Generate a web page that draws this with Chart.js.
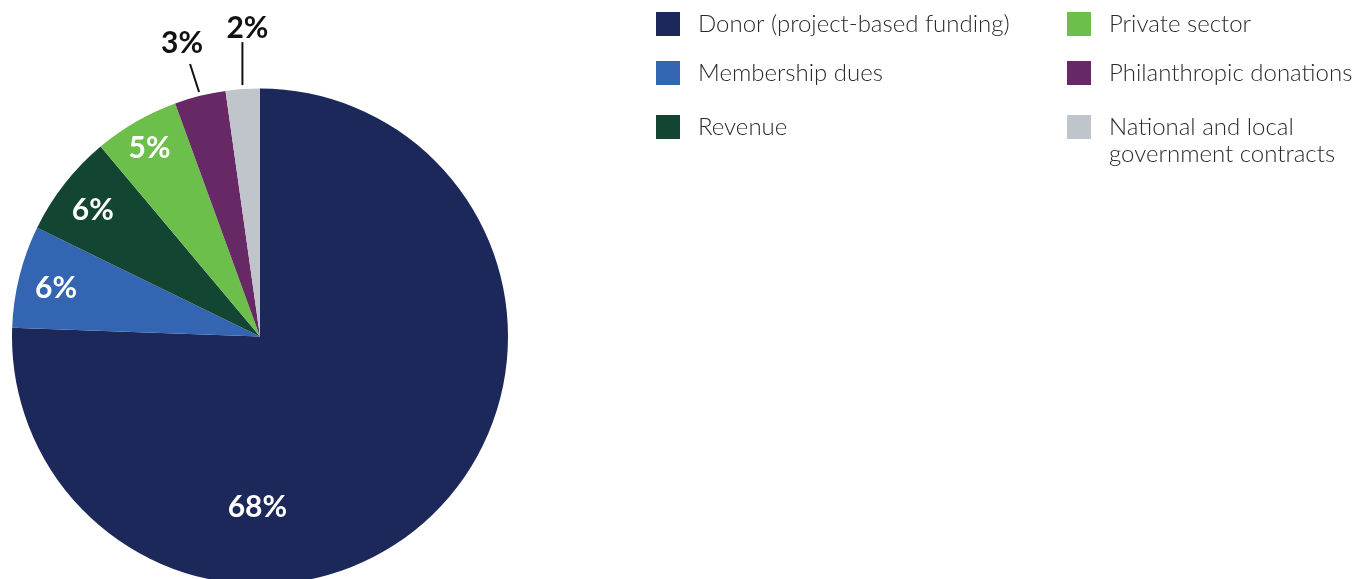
<!DOCTYPE html>
<html>
<head>
<meta charset="utf-8">
<script src="https://cdn.jsdelivr.net/npm/chart.js@4"></script>
<style>
  html, body { margin: 0; padding: 0; background: #ffffff; overflow: hidden; }
  #wrap { position: relative; width: 1369px; height: 579px; overflow: hidden; }
  canvas { display: block; }
</style>
</head>
<body>
<div id="wrap"><canvas id="pie" width="1369" height="620"></canvas></div>
<script>
// Funding sources and their shares (percent)
const categories = [
  'Donor (project-based funding)',
  'Membership dues',
  'Revenue',
  'Private sector',
  'Philanthropic donations',
  'National and local government contracts'
];
const shares = [68, 6, 6, 5, 3, 2];
const colors = ['#1d285a', '#3465b2', '#134632', '#6cbf4b', '#672866', '#c0c4cb'];

// Legend entries: two columns, wrapped label lines
const legendLines = [
  ['Donor (project-based funding)'],
  ['Membership dues'],
  ['Revenue'],
  ['Private sector'],
  ['Philanthropic donations'],
  ['National and local', 'government contracts']
];

const labelFont = 'bold 30px Lato, "Open Sans", sans-serif';

// Where each inside label sits: fraction along the slice's sweep, fraction of the radius
const insidePlacement = [
  [0.665, 0.69],
  [0.47, 0.845],
  [0.46, 0.845],
  [0.48, 0.88]
];

// Percent labels inside the larger slices, callouts above the two thin ones
const sliceLabels = {
  id: 'sliceLabels',
  afterDatasetsDraw(chart) {
    const ctx = chart.ctx;
    const arcs = chart.getDatasetMeta(0).data;
    ctx.save();
    ctx.font = labelFont;
    ctx.textAlign = 'center';
    ctx.textBaseline = 'middle';
    arcs.forEach((arc, i) => {
      const text = shares[i] + '%';
      const r = arc.outerRadius;
      if (i < insidePlacement.length) {
        const [fa, fr] = insidePlacement[i];
        const a = arc.startAngle + (arc.endAngle - arc.startAngle) * fa;
        ctx.fillStyle = '#ffffff';
        ctx.fillText(text, arc.x + Math.cos(a) * r * fr, arc.y + Math.sin(a) * r * fr);
      } else {
        // leader line from the rim outward
        const mid = (arc.startAngle + arc.endAngle) / 2;
        const x0 = arc.x + Math.cos(mid) * (r + 4);
        const y0 = arc.y + Math.sin(mid) * (r + 4);
        let x1, y1, tx, ty;
        if (i === 4) {
          x1 = x0 - 9; y1 = y0 - 28; tx = x1 - 8; ty = y1 - 21;
        } else {
          x1 = x0; y1 = y0 - 43; tx = x1 + 5; ty = y1 - 14;
        }
        ctx.strokeStyle = '#111111';
        ctx.lineWidth = 2;
        ctx.beginPath();
        ctx.moveTo(x0, y0);
        ctx.lineTo(x1, y1);
        ctx.stroke();
        ctx.fillStyle = '#111111';
        ctx.fillText(text, tx, ty);
      }
    });
    ctx.restore();
  }
};

// Two-column legend to the right of the pie
const sideLegend = {
  id: 'sideLegend',
  afterDraw(chart) {
    const ctx = chart.ctx;
    ctx.save();
    ctx.font = '300 24px Lato, "Open Sans", sans-serif';
    ctx.textAlign = 'left';
    ctx.textBaseline = 'middle';
    const colX = [656, 1067];
    const rowY = [24, 73, 127];
    categories.forEach((c, i) => {
      const col = Math.floor(i / 3);
      const row = i % 3;
      const x = colX[col];
      const y = rowY[row];
      ctx.fillStyle = colors[i];
      ctx.fillRect(x, y - 12, 24, 24);
      ctx.fillStyle = '#2a2a2a';
      legendLines[i].forEach((line, k) => {
        ctx.fillText(line, x + 42, y + k * 27);
      });
    });
    ctx.restore();
  }
};

new Chart(document.getElementById('pie'), {
  type: 'pie',
  data: {
    labels: categories,
    datasets: [{
      data: shares,
      backgroundColor: colors,
      borderWidth: 0
    }]
  },
  options: {
    responsive: false,
    animation: false,
    layout: { padding: { left: 12, top: 88, right: 861, bottom: 35 } },
    plugins: {
      legend: { display: false },
      tooltip: { enabled: false }
    }
  },
  plugins: [sliceLabels, sideLegend]
});
</script>
</body>
</html>
